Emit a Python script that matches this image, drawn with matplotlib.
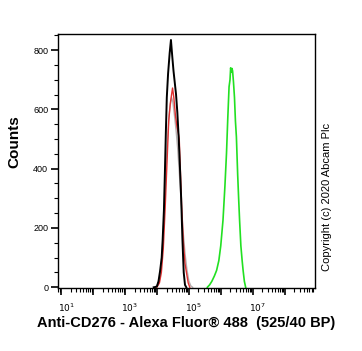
import matplotlib
matplotlib.use('Agg')
import matplotlib.pyplot as plt
import matplotlib.transforms as mtransforms
import numpy as np
from matplotlib.ticker import LogLocator, FixedLocator, MultipleLocator, NullFormatter

plt.rcParams['font.family'] = ['Liberation Sans', 'DejaVu Sans']

# histogram readings: log10 of intensity and counts
black_x = [3.90, 3.95, 4.00, 4.05, 4.10, 4.15, 4.18, 4.22, 4.25, 4.28, 4.31, 4.35, 4.40, 4.44,
           4.48, 4.52, 4.56, 4.60, 4.64, 4.68, 4.72, 4.76, 4.80, 4.84, 4.88, 4.92]
black_y = [0, 1, 3, 20, 55, 100, 159, 260, 385, 520, 640, 720, 790, 834,
           780, 730, 690, 650, 590, 510, 410, 300, 160, 50, 8, 0]

red_x = [4.00, 4.08, 4.14, 4.20, 4.26, 4.32, 4.37, 4.42, 4.46, 4.49, 4.53, 4.58, 4.63,
         4.67, 4.70, 4.74, 4.78, 4.83, 4.88, 4.93, 4.98, 5.03]
red_y = [0, 15, 50, 130, 270, 430, 560, 620, 650, 672, 640, 580, 540,
         520, 500, 380, 260, 150, 80, 47, 15, 0]

gray_x = [3.98, 4.08, 4.14, 4.20, 4.26, 4.32, 4.38, 4.42, 4.46, 4.50, 4.55, 4.60,
          4.65, 4.70, 4.76, 4.82, 4.88, 4.94, 5.00, 5.06, 5.12]
gray_y = [0, 25, 80, 180, 330, 480, 580, 615, 640, 625, 580, 530,
          470, 390, 290, 190, 115, 60, 22, 5, 0]

green_x = [5.58, 5.65, 5.72, 5.80, 5.87, 5.94, 6.00, 6.07, 6.13, 6.18, 6.22, 6.26, 6.29, 6.31,
           6.33, 6.35, 6.37, 6.40, 6.43, 6.46, 6.49, 6.53, 6.56, 6.59, 6.63, 6.67, 6.70, 6.74, 6.78]
green_y = [0, 8, 20, 38, 57, 90, 140, 226, 340, 452, 570, 676, 700, 740,
           725, 738, 730, 690, 640, 560, 507, 380, 300, 226, 140, 90, 57, 20, 0]

fig = plt.figure(figsize=(3.62, 3.51), dpi=100)
ax = fig.add_axes([0.160, 0.179, 0.710, 0.724])

ax.plot(10 ** np.array(gray_x), gray_y, color='#b8b0b0', lw=1.0)
ax.plot(10 ** np.array(red_x), red_y, color='#e03030', lw=1.0)
ax.plot(10 ** np.array(black_x), black_y, color='black', lw=1.4)
ax.plot(10 ** np.array(green_x), green_y, color='#22e022', lw=1.2)

ax.set_xscale('log')
ax.set_xlim(10 ** 0.9, 10 ** 8.95)
ax.set_ylim(-3, 854)

ax.xaxis.set_major_locator(FixedLocator([10.0 ** k for k in range(1, 9)]))
ax.xaxis.set_minor_locator(LogLocator(base=10, subs=np.arange(2, 10), numticks=20))
ax.set_xticklabels(['$10^{%d}$' % k if k % 2 == 1 else '' for k in range(1, 9)])
ax.xaxis.set_minor_formatter(NullFormatter())

ax.yaxis.set_major_locator(MultipleLocator(200))
ax.yaxis.set_minor_locator(MultipleLocator(50))

ax.tick_params(axis='both', which='major', direction='out', length=5, width=1.2, labelsize=6.5)
ax.tick_params(axis='both', which='minor', direction='out', length=3, width=0.8)
ax.tick_params(axis='y', pad=2)
ax.tick_params(axis='x', pad=5)
for s in ax.spines.values():
    s.set_linewidth(1.0)

# shift x tick labels a little to the right, as in the original export
shift = mtransforms.ScaledTranslation(5 / 100, 0, fig.dpi_scale_trans)
for lab in ax.get_xticklabels():
    lab.set_transform(lab.get_transform() + shift)

fig.text(14 / 362, 1 - 142 / 351, 'Counts', rotation=90, fontsize=11, fontweight='bold',
         ha='center', va='center')
ax.set_xlabel('Anti-CD276 - Alexa Fluor\u00ae 488  (525/40 BP)', fontsize=10.5,
              fontweight='bold', labelpad=1)

fig.text(327 / 362, 0.44, 'Copyright (c) 2020 Abcam Plc', rotation=90, fontsize=8,
         ha='center', va='center')

fig.savefig('out.png', dpi=100)
